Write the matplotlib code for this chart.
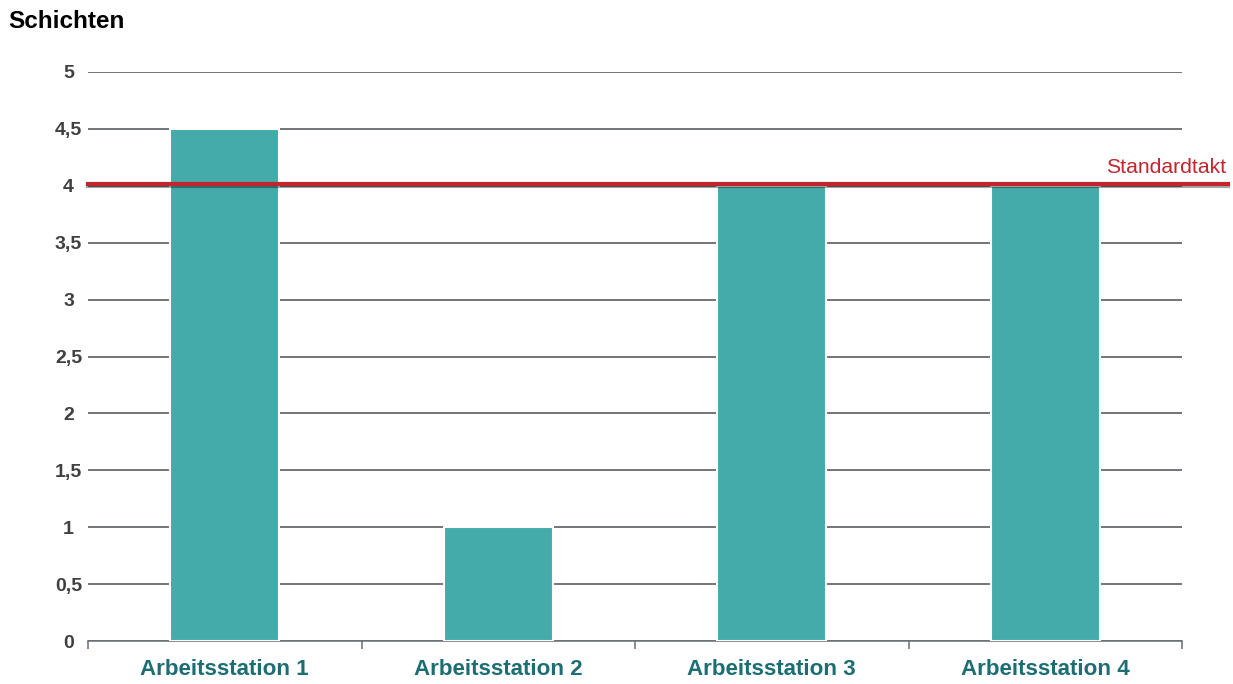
import matplotlib
matplotlib.use("Agg")
import matplotlib.pyplot as plt
import matplotlib.patheffects as pe
import numpy as np

stations = ["Arbeitsstation 1", "Arbeitsstation 2", "Arbeitsstation 3", "Arbeitsstation 4"]
schichten = [4.5, 1.0, 4.0, 4.0]
standardtakt = 4.0
y_ticks = [0, 0.5, 1, 1.5, 2, 2.5, 3, 3.5, 4, 4.5, 5]
y_labels = ["0", "0,5", "1", "1,5", "2", "2,5", "3", "3,5", "4", "4,5", "5"]

plt.rcParams["font.family"] = ["Liberation Sans", "DejaVu Sans"]

fig = plt.figure(figsize=(12.33, 6.84), dpi=100)
ax = fig.add_axes([88 / 1233, 1 - 641 / 684, 1094 / 1233, (641 - 72) / 684])

x = np.arange(len(stations))
ax.bar(x, schichten, width=0.4, color="#45AAAA", edgecolor="white",
       linewidth=1.5, zorder=3)

ax.set_xlim(-0.5, len(stations) - 0.5)
ax.set_ylim(0, 5)
ax.set_yticks(y_ticks)
ax.set_yticklabels(y_labels, fontsize=14, fontweight="bold", color="#404040",
                   ha="center")
ax.tick_params(axis="y", length=0, pad=14)
ax.yaxis.grid(True, color="#4a5056", linewidth=1.1, zorder=1)
ax.set_axisbelow(True)

ax.set_xticks(x)
ax.set_xticklabels(stations, fontsize=16.1, fontweight="bold", color="#1D6E73")
ax.set_xticks(np.arange(-0.5, len(stations)), minor=True)
ax.tick_params(axis="x", which="major", length=0, pad=13)
ax.tick_params(axis="x", which="minor", length=6, width=1.1, color="#6a6f75")

for s in ["top", "right", "left"]:
    ax.spines[s].set_visible(False)
ax.spines["bottom"].set_color("#6a6f75")
ax.spines["bottom"].set_linewidth(1.1)

# Standardtakt line, runs a bit past the plot area
ax.axhline(standardtakt + 0.02, xmin=0, xmax=(1228 - 88) / 1094, color="#C0262B",
           linewidth=3, clip_on=False, zorder=5,
           path_effects=[pe.SimpleLineShadow(offset=(0, -1.5), alpha=0.35),
                         pe.Normal()])
ax.text((1226 - 88) / 1094, standardtakt + 0.08, "Standardtakt",
        transform=ax.get_yaxis_transform(), ha="right", va="bottom",
        fontsize=15.2, color="#C0262B", clip_on=False)

fig.text(8 / 1233, 1 - 21 / 684, "Schichten", fontsize=17.5, fontweight="bold",
         color="black", ha="left", va="center")

fig.savefig("out.png", dpi=100)
